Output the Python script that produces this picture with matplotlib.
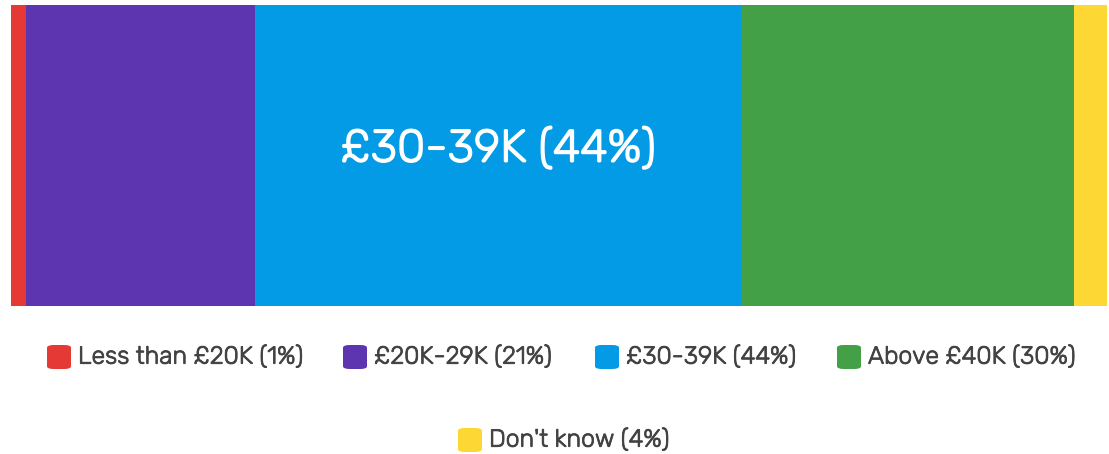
import matplotlib
matplotlib.use("Agg")
import matplotlib.pyplot as plt
import matplotlib.patheffects as pe
from matplotlib.patches import FancyBboxPatch
import numpy as np

categories = ["Less than £20K", "£20K-29K", "£30-39K", "Above £40K", "Don't know"]
shares = [1.4, 20.9, 44.3, 30.4, 3.0]
labels = ["1%", "21%", "44%", "30%", "4%"]
colors = ["#E53935", "#5E35B1", "#039BE5", "#43A047", "#FDD835"]

W, H = 1109, 454
fig = plt.figure(figsize=(W / 100, H / 100), dpi=100)
plt.rcParams['font.family'] = ['Rubik', 'Inter', 'DejaVu Sans']

ax = fig.add_axes([11 / W, 1 - 306 / H, (1107 - 11) / W, (306 - 5) / H])
lefts = np.concatenate([[0], np.cumsum(shares)[:-1]])
ax.barh(0, shares, left=lefts, color=colors, height=1.0, edgecolor="none")
ax.set_xlim(0, sum(shares))
ax.set_ylim(-0.5, 0.5)
ax.axis("off")

# label only the largest segment (thin stroke to get a regular weight look)
i = int(np.argmax(shares))
ax.text(lefts[i] + shares[i] / 2, 0.02, f"{categories[i]} ({labels[i]})",
        color="white", fontsize=33, ha="center", va="center",
        path_effects=[pe.withStroke(linewidth=1.0, foreground="white")])

# legend drawn by hand: two rows
legend_pos = [(47, 357), (343, 357), (595, 357), (837, 357), (458, 440)]
for (x, y), c, cat, lab in zip(legend_pos, colors, categories, labels):
    sq = 24
    fig.patches.append(FancyBboxPatch((x / W, (H - y - sq / 2) / H), sq / W, sq / H,
                                      boxstyle="round,pad=0,rounding_size=0.006",
                                      transform=fig.transFigure, facecolor=c,
                                      edgecolor="none"))
    fig.text((x + sq + 7) / W, (H - y) / H, f"{cat} ({lab})", fontsize=17.8,
             color="#424242", ha="left", va="center",
             path_effects=[pe.withStroke(linewidth=0.6, foreground="#424242")])

fig.savefig("out.png", dpi=100)
